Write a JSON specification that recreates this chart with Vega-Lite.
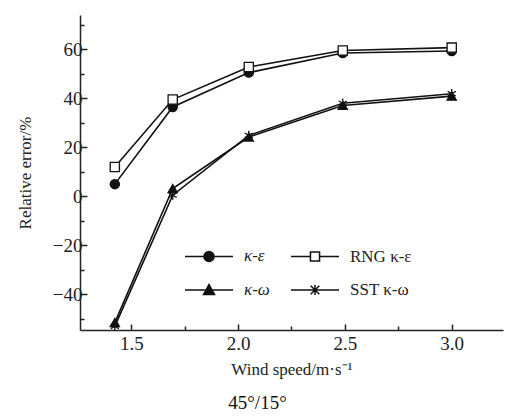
{
  "$schema": "https://vega.github.io/schema/vega-lite/v6.json",
  "width": 423,
  "height": 315,
  "autosize": {"type": "none"},
  "padding": {"left": 80, "top": 15, "right": 2, "bottom": 86},
  "background": "white",
  "config": {
    "view": {"stroke": null},
    "font": "Liberation Serif",
    "axis": {
      "grid": false,
      "domainColor": "#222",
      "domainWidth": 1.5,
      "tickColor": "#222",
      "tickWidth": 1.5,
      "labelFont": "Liberation Serif",
      "labelFontSize": 19,
      "labelColor": "#222",
      "titleFont": "Liberation Serif",
      "titleFontSize": 17,
      "titleFontWeight": "normal",
      "titleColor": "#222"
    }
  },
  "title": {
    "text": "45°/15°",
    "orient": "bottom",
    "anchor": "middle",
    "offset": 17,
    "dx": -34,
    "font": "Liberation Serif",
    "fontSize": 19,
    "fontWeight": "normal",
    "color": "#111"
  },
  "data": {
    "values": [
      {"x": 1.423, "y": 5, "s": "κ-ε"},
      {"x": 1.694, "y": 36.5, "s": "κ-ε"},
      {"x": 2.05, "y": 50.5, "s": "κ-ε"},
      {"x": 2.49, "y": 58.5, "s": "κ-ε"},
      {"x": 3.0, "y": 59.3, "s": "κ-ε"},
      {"x": 1.423, "y": 12, "s": "RNG κ-ε"},
      {"x": 1.694, "y": 39.5, "s": "RNG κ-ε"},
      {"x": 2.05, "y": 52.8, "s": "RNG κ-ε"},
      {"x": 2.49, "y": 59.5, "s": "RNG κ-ε"},
      {"x": 3.0, "y": 60.7, "s": "RNG κ-ε"},
      {"x": 1.423, "y": -51.5, "s": "κ-ω"},
      {"x": 1.694, "y": 3.2, "s": "κ-ω"},
      {"x": 2.05, "y": 24.2, "s": "κ-ω"},
      {"x": 2.49, "y": 37.1, "s": "κ-ω"},
      {"x": 3.0, "y": 40.9, "s": "κ-ω"},
      {"x": 1.423, "y": -53, "s": "SST κ-ω"},
      {"x": 1.694, "y": 0.5, "s": "SST κ-ω"},
      {"x": 2.05, "y": 24.9, "s": "SST κ-ω"},
      {"x": 2.49, "y": 38, "s": "SST κ-ω"},
      {"x": 3.0, "y": 41.9, "s": "SST κ-ω"}
    ]
  },
  "layer": [
    {
      "mark": {"type": "line", "stroke": "#111", "strokeWidth": 1.6},
      "encoding": {
        "x": {
          "field": "x", "type": "quantitative",
          "scale": {"domain": [1.26, 3.24], "nice": false, "zero": false},
          "axis": {"values": [1.5, 2, 2.5, 3], "format": ".1f", "tickSize": -6, "labelPadding": 10, "title": "Wind speed/m·s⁻¹", "titlePadding": 8, "orient": "bottom"}
        },
        "y": {
          "field": "y", "type": "quantitative",
          "scale": {"domain": [-54.5, 74], "nice": false, "zero": false},
          "axis": {"values": [-40, -20, 0, 20, 40, 60], "tickSize": -7, "labelPadding": 5, "title": "Relative error/%", "titlePadding": 18, "orient": "left"}
        },
        "detail": {"field": "s"}
      }
    },
    {
      "mark": {"type": "point", "stroke": "#111", "strokeWidth": 1.3, "opacity": 1, "size": 85},
      "encoding": {
        "x": {
          "field": "x", "type": "quantitative",
          "scale": {"domain": [1.26, 3.24], "nice": false, "zero": false},
          "axis": {"values": [1.75, 2.25, 2.75], "labels": false, "domain": false, "tickSize": -4, "title": null, "orient": "bottom"}
        },
        "y": {
          "field": "y", "type": "quantitative",
          "scale": {"domain": [-54.5, 74], "nice": false, "zero": false},
          "axis": {"values": [-50, -30, -10, 10, 30, 50, 70], "labels": false, "domain": false, "tickSize": -4, "title": null, "orient": "left"}
        },
        "fill": {
          "field": "s", "type": "nominal",
          "scale": {"domain": ["κ-ε", "RNG κ-ε", "κ-ω", "SST κ-ω"], "range": ["#111", "white", "#111", "white"]},
          "legend": null
        },
        "shape": {
          "field": "s", "type": "nominal",
          "scale": {"domain": ["κ-ε", "RNG κ-ε", "κ-ω", "SST κ-ω"], "range": ["circle", "square", "triangle-up", "M0,-1V1M-0.87,-0.5L0.87,0.5M-0.87,0.5L0.87,-0.5"]},
          "legend": null
        }
      }
    },
    {
      "mark": {
        "type": "point",
        "filled": true,
        "fill": {"expr": "(datum.value === 'RNG κ-ε' || datum.value === 'SST κ-ω') ? 'white' : '#111'"},
        "stroke": "#111",
        "strokeWidth": 1.5,
        "opacity": 0
      },
      "encoding": {
        "x": {"field": "x", "type": "quantitative", "scale": {"domain": [1.26, 3.24], "nice": false, "zero": false}, "axis": null},
        "y": {"field": "y", "type": "quantitative", "scale": {"domain": [-54.5, 74], "nice": false, "zero": false}, "axis": null},
        "shape": {
          "field": "s", "type": "nominal",
          "scale": {"domain": ["κ-ε", "RNG κ-ε", "κ-ω", "SST κ-ω"], "range": [
            "M-1,0H-0.21M0.21,0H1M-0.21,0A0.21,0.21 0 1,0 0.21,0A0.21,0.21 0 1,0 -0.21,0Z",
            "M-1,0H-0.19M0.19,0H1M-0.19,-0.19H0.19V0.19H-0.19Z",
            "M-1,0H1M-0.23,0.19L0,-0.23L0.23,0.19Z",
            "M-1,0H1M0,-0.21V0.21M-0.18,-0.18L0.18,0.18M-0.18,0.18L0.18,-0.18"
          ]},
          "legend": {
            "orient": "none",
            "legendX": 104,
            "legendY": 216,
            "columns": 2,
            "direction": "horizontal",
            "title": null,
            "padding": 0,
            "symbolSize": 2304,
            "symbolStrokeWidth": 1.5,
            "labelFont": "Liberation Serif",
            "labelFontSize": 17,
            "labelColor": "#222",
            "labelFontStyle": {"expr": "(indexof(datum.label, 'RNG') < 0 && indexof(datum.label, 'SST') < 0) ? 'italic' : 'normal'"},
            "labelOffset": 10,
            "columnPadding": 18,
            "rowPadding": 0
          }
        }
      }
    }
  ],
  "resolve": {
    "axis": {"x": "independent", "y": "independent"},
    "scale": {"shape": "independent"},
    "legend": {"shape": "independent"}
  }
}
